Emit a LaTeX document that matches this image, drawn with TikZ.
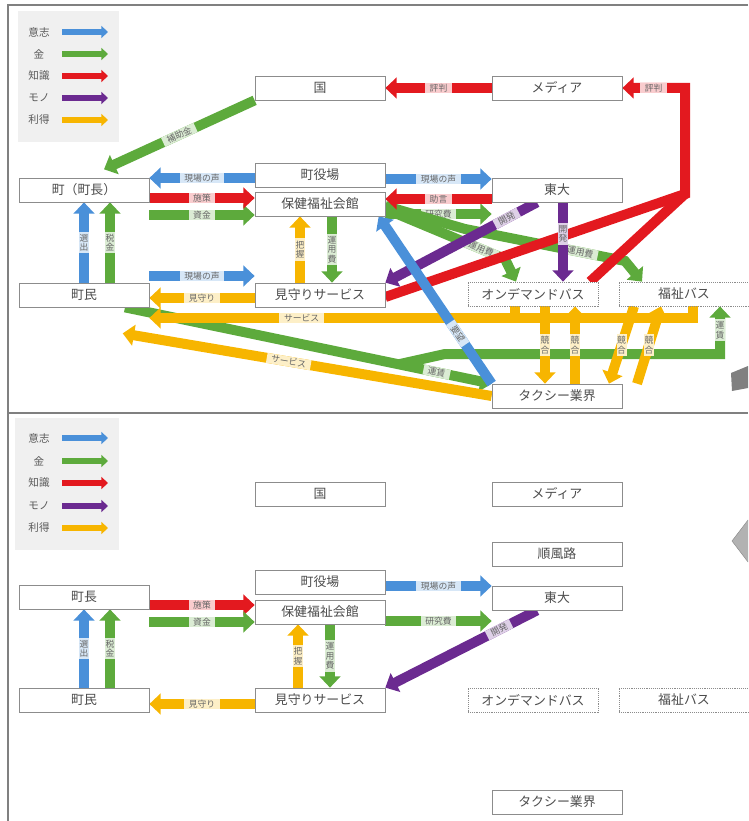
\documentclass[tikz,border=0pt]{standalone}
\usepackage{fontspec}
\setmainfont{Noto Sans CJK JP}
\usetikzlibrary{arrows.meta,backgrounds}
\definecolor{cwill}{HTML}{4A90D9}
\definecolor{cmoney}{HTML}{5DAA3C}
\definecolor{cknow}{HTML}{E3191F}
\definecolor{cthing}{HTML}{6B2A90}
\definecolor{cgain}{HTML}{F7B500}

\begin{document}
\begin{tikzpicture}[x=0.03cm,y=-0.03cm,
  box/.style={draw=black!45,line width=0.6pt,fill=white,minimum width=3.9cm,minimum height=0.72cm,inner sep=0pt,text=black!70,font=\fontsize{11}{12}\selectfont},
  dbox/.style={box,densely dotted},
  band/.style={line width=0.3cm},
  flow/.style={band,-{Triangle[length=0.34cm,width=0.62cm]}},
  tag/.style={fill=#1!22!white,text=black!60,inner xsep=4pt,inner ysep=0pt,minimum height=0.3cm,font=\fontsize{7.5}{8}\selectfont},
  vtag/.style={tag=#1,align=center,inner xsep=0pt,inner ysep=2pt,minimum width=0.3cm},
  key/.style={text=black!65,font=\fontsize{9}{10}\selectfont},
  keyarrow/.style={line width=0.17cm,-{Triangle[length=0.2cm,width=0.36cm]}},
  frame/.style={draw=black!50,line width=0.08cm}]
\useasboundingbox (0,0) rectangle (748,821);

% frame of the two panels
\draw[frame] (748,5) -- (8,5) -- (8,821);
\draw[frame] (8,413) -- (748,413);
\fill[black!50] (731,373) -- (748,366) -- (748,388) -- (732,391) -- cycle;
\filldraw[fill=black!30,draw=black!45] (748,520) -- (732,541) -- (748,562);

% legend (top)
\fill[black!6] (18,11) rectangle (119,142);
\node[key] (k1) at (39,32) {意志};
\node[key] (k2) at (39,54) {金};
\node[key] (k3) at (39,76) {知識};
\node[key] (k4) at (39,98) {モノ};
\node[key] (k5) at (39,120) {利得};
\draw[keyarrow,cwill]  (k1.east -| 62,0) -- (k1.east -| 108,0);
\draw[keyarrow,cmoney] (k2.east -| 62,0) -- (k2.east -| 108,0);
\draw[keyarrow,cknow]  (k3.east -| 62,0) -- (k3.east -| 108,0);
\draw[keyarrow,cthing] (k4.east -| 62,0) -- (k4.east -| 108,0);
\draw[keyarrow,cgain]  (k5.east -| 62,0) -- (k5.east -| 108,0);

% boxes (top)
\node[box] (kuni) at (320,88) {国};
\node[box] (media) at (557,88) {メディア};
\node[box] (machi) at (84,190) {町（町長）};
\node[box] (yakuba) at (320,175) {町役場};
\node[box] (hoken) at (320,204) {保健福祉会館};
\node[box] (todai) at (557,190) {東大};
\node[box] (chomin) at (84,295) {町民};
\node[box] (mimamori) at (320,295) {見守りサービス};
\node[dbox] (odb) at (533,294) {オンデマンドバス};
\node[dbox] (fbus) at (684,294) {福祉バス};
\node[box] (taxi) at (557,396) {タクシー業界};

\begin{scope}[on background layer]
% money
\draw[flow,cmoney] (kuni.south west) -- ([shift={(0.6cm,0.25cm)}]machi.north) node[tag=cmoney,sloped,midway]{補助金};
\draw[flow,cmoney] (machi.east |- 0,215) -- (hoken.west |- 0,215) node[tag=cmoney,midway]{資金};
\draw[flow,cmoney] (chomin.north -| 110,0) -- (machi.south -| 110,0) node[vtag=cmoney,midway]{税\\金};
\draw[flow,cmoney] (hoken.south -| 332,0) -- (mimamori.north -| 332,0) node[vtag=cmoney,midway]{運\\用\\費};
\draw[flow,cmoney] (hoken.east |- 0,214) -- (todai.west |- 0,214) node[tag=cmoney,midway]{研究費};
\draw[flow,cmoney] (hoken.east |- 0,209) -- (505,259) node[tag=cmoney,sloped,pos=.8]{運用費} -- (odb.north -| 516,0);
\draw[flow,cmoney] (hoken.east |- 0,206) -- (465,229) -- (625,261) node[tag=cmoney,sloped,pos=.72]{運用費} -- (fbus.north -| 642,0);
\draw[flow,cmoney] (chomin.south -| 125,0) -- (taxi.north west) node[tag=cmoney,sloped,pos=.85]{運賃};
\coordinate (fare) at (400,364);
\draw[flow,cmoney] (fare) -- (445,354) -- (720,354) -- (fbus.south -| 720,0) node[vtag=cmoney,midway]{運\\賃};
% gain
\draw[flow,cgain] (odb.south -| 545,0) -- (taxi.north -| 545,0) node[vtag=cgain,midway]{競\\合};
\draw[flow,cgain] (taxi.north -| 575,0) -- (odb.south -| 575,0) node[vtag=cgain,midway]{競\\合};
\draw[flow,cgain] (fbus.south -| 634,0) -- (taxi.north -| 609,0) node[vtag=cgain,midway]{競\\合};
\draw[flow,cgain] (taxi.north -| 637,0) -- (fbus.south -| 661,0) node[vtag=cgain,midway]{競\\合};
\draw[band,cgain] (odb.south -| 515,0) -- (515,323);
\draw[flow,cgain] (fbus.south -| 693,0) |- (chomin.east |- 0,318) node[tag=cgain,pos=.86]{サービス};
\draw[flow,cgain] (taxi.west) -- ([shift={(-0.8cm,-0.78cm)}]chomin.south east) node[tag=cgain,sloped,pos=.55]{サービス};
\draw[flow,cgain] (mimamori.west |- 0,298) -- (chomin.east |- 0,298) node[tag=cgain,midway]{見守り};
\draw[flow,cgain] (mimamori.north -| 300,0) -- (hoken.south -| 300,0) node[vtag=cgain,midway]{把\\握};
% knowledge
\coordinate (jr) at (685,194);
\coordinate (jt) at (685,88);
\draw[band,cknow] (odb.north -| 590,0) -- (jr);
\draw[flow,cknow] (mimamori.east |- 0,297) -- (jr) -- (jt) -- (media.east) node[tag=cknow,pos=.5]{評判};
\draw[flow,cknow] (media.west) -- (kuni.east) node[tag=cknow,midway]{評判};
\draw[flow,cknow] (machi.east |- 0,198) -- (hoken.west |- 0,198) node[tag=cknow,midway]{施策};
\draw[flow,cknow] (todai.west |- 0,199) -- (hoken.east |- 0,199) node[tag=cknow,midway]{助言};
% things
\draw[flow,cthing] (todai.south -| 537,0) -- (mimamori.north east) node[tag=cthing,sloped,pos=.2]{開発};
\draw[flow,cthing] (todai.south -| 563,0) -- (odb.north -| 563,0) node[vtag=cthing,pos=.4]{開\\発};
% will
\draw[flow,cwill] (yakuba.west |- 0,178) -- (machi.east |- 0,178) node[tag=cwill,midway]{現場の声};
\draw[flow,cwill] (yakuba.east |- 0,179) -- (todai.west |- 0,179) node[tag=cwill,midway]{現場の声};
\draw[flow,cwill] (chomin.north) -- (machi.south) node[vtag=cwill,midway]{選\\出};
\draw[flow,cwill] (chomin.east |- 0,276) -- (mimamori.west |- 0,276) node[tag=cwill,midway]{現場の声};
\draw[flow,cwill] (taxi.north west) -- ([xshift=-0.2cm]hoken.south east) node[tag=cwill,sloped,pos=.3]{要望};
\end{scope}

% legend (bottom)
\fill[black!6] (15,418) rectangle (119,550);
\node[key] (kb1) at (39,438) {意志};
\node[key] (kb2) at (39,461) {金};
\node[key] (kb3) at (39,483) {知識};
\node[key] (kb4) at (39,506) {モノ};
\node[key] (kb5) at (39,528) {利得};
\draw[keyarrow,cwill]  (kb1.east -| 62,0) -- (kb1.east -| 108,0);
\draw[keyarrow,cmoney] (kb2.east -| 62,0) -- (kb2.east -| 108,0);
\draw[keyarrow,cknow]  (kb3.east -| 62,0) -- (kb3.east -| 108,0);
\draw[keyarrow,cthing] (kb4.east -| 62,0) -- (kb4.east -| 108,0);
\draw[keyarrow,cgain]  (kb5.east -| 62,0) -- (kb5.east -| 108,0);

% boxes (bottom)
\node[box] (kunib) at (320,494) {国};
\node[box] (mediab) at (557,494) {メディア};
\node[box] (junpu) at (557,554) {順風路};
\node[box] (yakubab) at (320,582) {町役場};
\node[box] (machib) at (84,597) {町長};
\node[box] (todaib) at (557,598) {東大};
\node[box] (hokenb) at (320,612) {保健福祉会館};
\node[box] (chominb) at (84,700) {町民};
\node[box] (mimamorib) at (320,700) {見守りサービス};
\node[dbox] (odbb) at (533,700) {オンデマンドバス};
\node[dbox] (fbusb) at (684,700) {福祉バス};
\node[box] (taxib) at (557,802) {タクシー業界};

\begin{scope}[on background layer]
\draw[flow,cknow] (machib.east |- 0,605) -- (hokenb.west |- 0,605) node[tag=cknow,midway]{施策};
\draw[flow,cmoney] (machib.east |- 0,622) -- (hokenb.west |- 0,622) node[tag=cmoney,midway]{資金};
\draw[flow,cwill] (chominb.north) -- (machib.south) node[vtag=cwill,midway]{選\\出};
\draw[flow,cmoney] (chominb.north -| 110,0) -- (machib.south -| 110,0) node[vtag=cmoney,midway]{税\\金};
\draw[flow,cgain] (mimamorib.west |- 0,704) -- (chominb.east |- 0,704) node[tag=cgain,midway]{見守り};
\draw[flow,cgain] (mimamorib.north -| 298,0) -- (hokenb.south -| 298,0) node[vtag=cgain,midway]{把\\握};
\draw[flow,cmoney] (hokenb.south -| 330,0) -- (mimamorib.north -| 330,0) node[vtag=cmoney,midway]{運\\用\\費};
\draw[flow,cwill] (yakubab.east |- 0,586) -- (todaib.west |- 0,586) node[tag=cwill,midway]{現場の声};
\draw[flow,cmoney] (hokenb.east |- 0,621) -- (todaib.west |- 0,621) node[tag=cmoney,midway]{研究費};
\draw[flow,cthing] (todaib.south -| 537,0) -- (mimamorib.north east) node[tag=cthing,sloped,pos=.25]{開発};
\end{scope}
\end{tikzpicture}
\end{document}
